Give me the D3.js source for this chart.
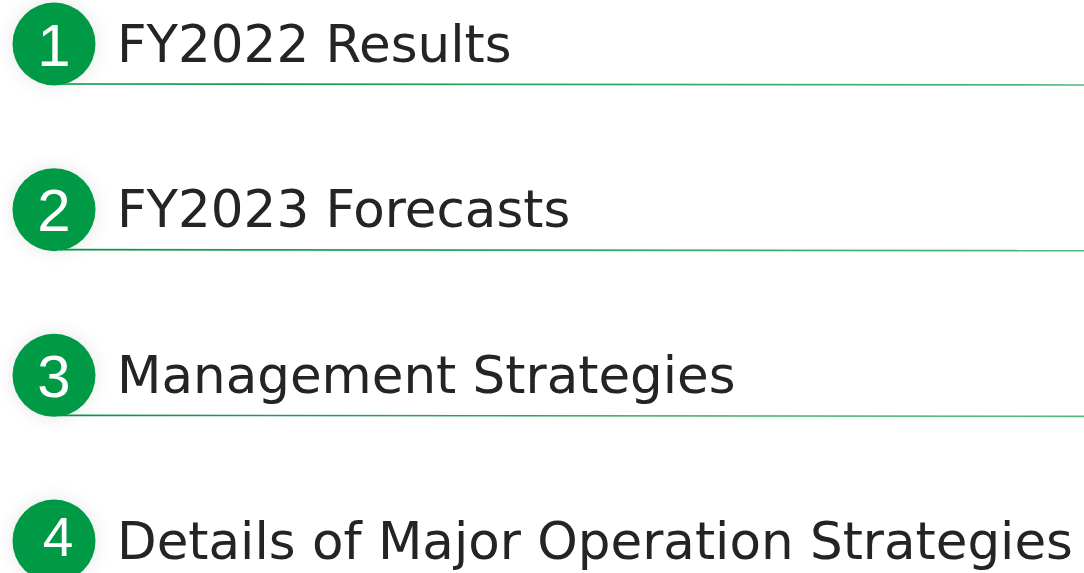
<!DOCTYPE html>
<html><head><meta charset="utf-8">
<script src="https://cdn.jsdelivr.net/npm/d3@7"></script>
<style>html,body{margin:0;padding:0;background:#fff;overflow:hidden}</style>
</head><body>
<svg id="c" width="1084" height="573"></svg>
<script>
const numbers = ["1", "2", "3", "4"];
const titles = ["FY2022 Results", "FY2023 Forecasts", "Management Strategies", "Details of Major Operation Strategies"];

const W = 1084, H = 573;
const svg = d3.select("#c");
const defs = svg.append("defs");
const f = defs.append("filter").attr("id","sh").attr("x","-50%").attr("y","-50%").attr("width","200%").attr("height","200%");
f.append("feGaussianBlur").attr("in","SourceAlpha").attr("stdDeviation",9).attr("result","b");
f.append("feColorMatrix").attr("in","b").attr("type","matrix").attr("values","0 0 0 0 0  0 0 0 0 0  0 0 0 0 0  0 0 0 0.10 0").attr("result","s");
const m = f.append("feMerge"); m.append("feMergeNode").attr("in","s"); m.append("feMergeNode").attr("in","SourceGraphic");
const g = defs.append("linearGradient").attr("id","lg").attr("x1","0").attr("x2","1");
g.append("stop").attr("offset","0").attr("stop-color","#0a9646");
g.append("stop").attr("offset","1").attr("stop-color","#55b880");

const y = d3.scalePoint().domain(numbers).range([44, 541]);
const last = numbers[numbers.length - 1];

const rows = svg.selectAll("g.row").data(numbers).join("g").attr("class","row")
  .attr("transform", d => `translate(0,${y(d)})`);

rows.append("line").attr("x1", 60).attr("x2", W).attr("y1", 40).attr("y2", 41)
  .attr("stroke","url(#lg)").attr("stroke-width",1.7);
rows.append("circle").attr("cx", 54).attr("cy", 0).attr("r", 41.5)
  .attr("fill","#009a47").attr("filter","url(#sh)");
rows.append("text").attr("x", d => d === last ? 58 : 54)
  .attr("y", d => d === last ? 15 : 21.5).attr("text-anchor","middle")
  .attr("font-family","Liberation Sans, Arial, sans-serif")
  .attr("font-size", d => d === last ? 55 : 60)
  .attr("fill","#fff").text(d => d);
rows.append("text").attr("x", 117).attr("y", 17.5)
  .attr("font-family","DejaVu Sans, Verdana, sans-serif").attr("font-size", 51.5)
  .attr("fill","#242424").text((d,i) => titles[i]);
</script>
</body></html>
